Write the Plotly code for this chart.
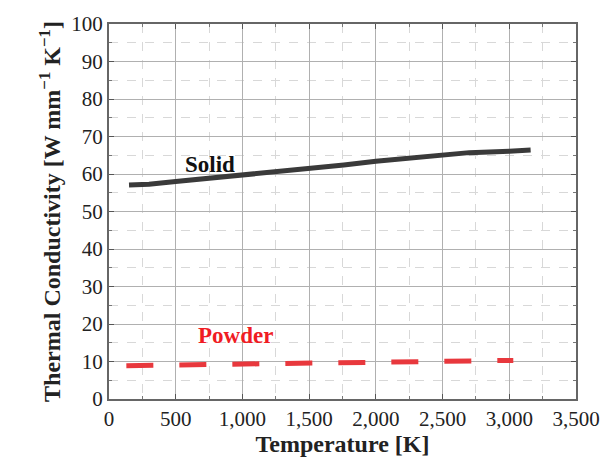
import plotly.graph_objects as go

solid_T = [150, 300, 500, 1000, 1500, 1760, 2000, 2500, 2700, 3000, 3160]
solid_k = [57.1, 57.3, 58.0, 59.7, 61.2, 62.4, 63.4, 65.2, 65.7, 66.1, 66.4]

powder_T = [130, 500, 1000, 1500, 2000, 2500, 2650, 3030]
powder_k = [8.9, 9.1, 9.3, 9.5, 9.8, 10.0, 10.2, 10.3]

x_ticks = [0, 500, 1000, 1500, 2000, 2500, 3000, 3500]
y_ticks = [0, 10, 20, 30, 40, 50, 60, 70, 80, 90, 100]

FONT = "Liberation Serif"

fig = go.Figure()
fig.add_trace(go.Scatter(x=solid_T, y=solid_k, mode="lines", name="Solid",
                         line=dict(color="#3a3a3a", width=5), showlegend=False))
fig.add_trace(go.Scatter(x=powder_T, y=powder_k, mode="lines", name="Powder",
                         line=dict(color="#e8383d", width=5, dash="27px,26px"),
                         showlegend=False))

fig.add_annotation(x=755, y=62.6, text="<b>Solid</b>", showarrow=False,
                   font=dict(family=FONT, size=23, color="#111111"),
                   xanchor="center", yanchor="middle")
fig.add_annotation(x=945, y=17.0, text="<b>Powder</b>", showarrow=False,
                   font=dict(family=FONT, size=23, color="#f01c24"),
                   xanchor="center", yanchor="middle")

axis_common = dict(
    showline=True, linecolor="#666666", linewidth=2, mirror="ticks",
    ticks="inside", ticklen=5, tickcolor="#555555", tickwidth=1,
    showgrid=True, gridcolor="#b0b0b0", gridwidth=1, zeroline=False,
    tickfont=dict(family=FONT, size=21, color="#222222"),
)

fig.update_layout(
    width=612, height=470,
    margin=dict(l=109, r=24, t=17, b=71),
    paper_bgcolor="white", plot_bgcolor="white",
    xaxis=dict(range=[0, 3500], tickvals=x_ticks, tickformat=",d",
               title=dict(text="<b>Temperature [K]</b>", font=dict(family=FONT, size=24, color="#222222"), standoff=4),
               minor=dict(dtick=250, showgrid=True, gridcolor="#d8d8d8", griddash="dash",
                          ticks="inside", ticklen=3, tickcolor="#777777"),
               **axis_common),
    yaxis=dict(range=[0, 100], tickvals=y_ticks,
               title=dict(text="<b>Thermal Conductivity [W mm<sup>−1</sup> K<sup>−1</sup>]</b>",
                          font=dict(family=FONT, size=24, color="#222222"), standoff=4),
               minor=dict(dtick=5, showgrid=True, gridcolor="#d8d8d8", griddash="dash",
                          ticks="inside", ticklen=3, tickcolor="#777777"),
               **axis_common),
)

fig.write_html("out.html")
